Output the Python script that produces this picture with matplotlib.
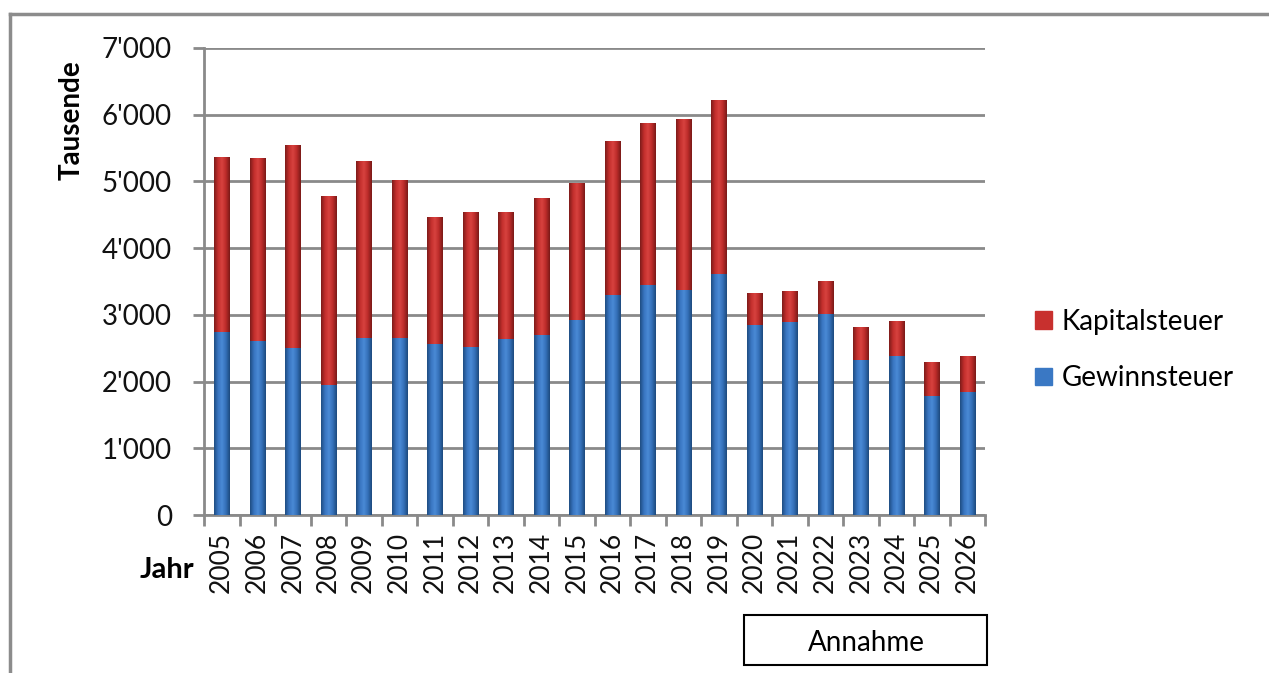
import matplotlib.pyplot as plt
import matplotlib.patches as mpatches
import numpy as np
from matplotlib.lines import Line2D
from matplotlib.colors import LinearSegmentedColormap

plt.rcParams['font.family'] = ['Lato', 'DejaVu Sans']

jahre = ['2005', '2006', '2007', '2008', '2009', '2010', '2011', '2012', '2013', '2014', '2015',
         '2016', '2017', '2018', '2019', '2020', '2021', '2022', '2023', '2024', '2025', '2026']
gewinnsteuer = [2750, 2610, 2500, 1950, 2650, 2650, 2560, 2520, 2640, 2700, 2920,
                3300, 3450, 3380, 3610, 2850, 2900, 3010, 2320, 2390, 1790, 1850]
total = [5360, 5340, 5540, 4770, 5300, 5010, 4450, 4540, 4540, 4740, 4960,
         5600, 5870, 5940, 6210, 3320, 3360, 3490, 2800, 2900, 2290, 2380]
kapitalsteuer = [t - g for t, g in zip(total, gewinnsteuer)]

fig = plt.figure(figsize=(12.69, 6.73), dpi=100)
ax = fig.add_axes([204 / 1269, 1 - 515 / 673, (985 - 204) / 1269, (515 - 48) / 673])

x = np.arange(len(jahre))
w = 0.43

# Farbverlauf fuer den Excel-Look
red_cm = LinearSegmentedColormap.from_list('r', ['#7e1c1a', '#c22e2c', '#d8423f', '#bb2b29', '#7a1a18'])
blue_cm = LinearSegmentedColormap.from_list('b', ['#1f4d82', '#3875c0', '#4a8ad6', '#3470b8', '#1d4a7e'])
grad = np.linspace(0, 1, 64).reshape(1, -1)

bars_g = ax.bar(x, gewinnsteuer, w, color='#3a78c4', zorder=3)
bars_k = ax.bar(x, kapitalsteuer, w, bottom=gewinnsteuer, color='#c8302e', zorder=3)
for bar in bars_g:
    bx, by, bw, bh = bar.get_x(), bar.get_y(), bar.get_width(), bar.get_height()
    ax.imshow(grad, cmap=blue_cm, extent=(bx, bx + bw, by, by + bh), aspect='auto', zorder=4)
for bar in bars_k:
    bx, by, bw, bh = bar.get_x(), bar.get_y(), bar.get_width(), bar.get_height()
    ax.imshow(grad, cmap=red_cm, extent=(bx, bx + bw, by, by + bh), aspect='auto', zorder=4)

ax.set_xlim(-0.5, len(jahre) - 0.5)
ax.set_ylim(0, 7000)
ax.set_yticks(range(0, 7001, 1000))
ax.set_yticklabels(['0' if v == 0 else f"{v // 1000}'000" for v in range(0, 7001, 1000)])
ax.yaxis.grid(True, color='#8a8a8a', linewidth=2, zorder=0)
ax.set_axisbelow(True)

ax.set_xticks(x)
ax.set_xticklabels(jahre, rotation=90)
ax.set_xticks(np.arange(-0.5, len(jahre)), minor=True)
ax.tick_params(axis='x', which='major', length=0, pad=12, labelsize=19, labelcolor='#111111')
ax.tick_params(axis='x', which='minor', length=8, width=2, color='#8a8a8a')
ax.tick_params(axis='y', length=8, width=2, color='#8a8a8a', pad=15, labelsize=20, labelcolor='#111111')

for s in ['top', 'right']:
    ax.spines[s].set_visible(False)
for s in ['left', 'bottom']:
    ax.spines[s].set_color('#8a8a8a')
    ax.spines[s].set_linewidth(2)

fig.text(72 / 1269, 1 - 120 / 673, 'Tausende', rotation=90, fontsize=20, fontweight='bold',
         ha='center', va='center')
fig.text(194 / 1269, 1 - 570 / 673, 'Jahr', fontsize=21, fontweight='bold', ha='right', va='center')

# Kasten Annahme
fig.add_artist(mpatches.Rectangle((744 / 1269, 1 - 665 / 673), (987 - 744) / 1269, 50 / 673,
                                  transform=fig.transFigure, fill=False, edgecolor='black', linewidth=1.5))
fig.text(866 / 1269, 1 - 643 / 673, 'Annahme', fontsize=20, ha='center', va='center')

# Rahmen
fig.add_artist(Line2D([10 / 1269, 1], [1 - 14 / 673, 1 - 14 / 673], transform=fig.transFigure,
                      color='#8c8c8c', linewidth=2.5))
fig.add_artist(Line2D([10 / 1269, 10 / 1269], [0, 1 - 14 / 673], transform=fig.transFigure,
                      color='#8c8c8c', linewidth=2.5))

handles = [mpatches.Patch(color='#c8302e', label='Kapitalsteuer'),
           mpatches.Patch(color='#3a78c4', label='Gewinnsteuer')]
ax.legend(handles=handles, loc='center left', bbox_to_anchor=(1010 / 1269, 1 - 350 / 673),
          bbox_transform=fig.transFigure, frameon=False, fontsize=20, handlelength=0.6,
          handleheight=0.6, handletextpad=0.35, labelspacing=1.1)

plt.savefig('out.png', dpi=100)
plt.close()
